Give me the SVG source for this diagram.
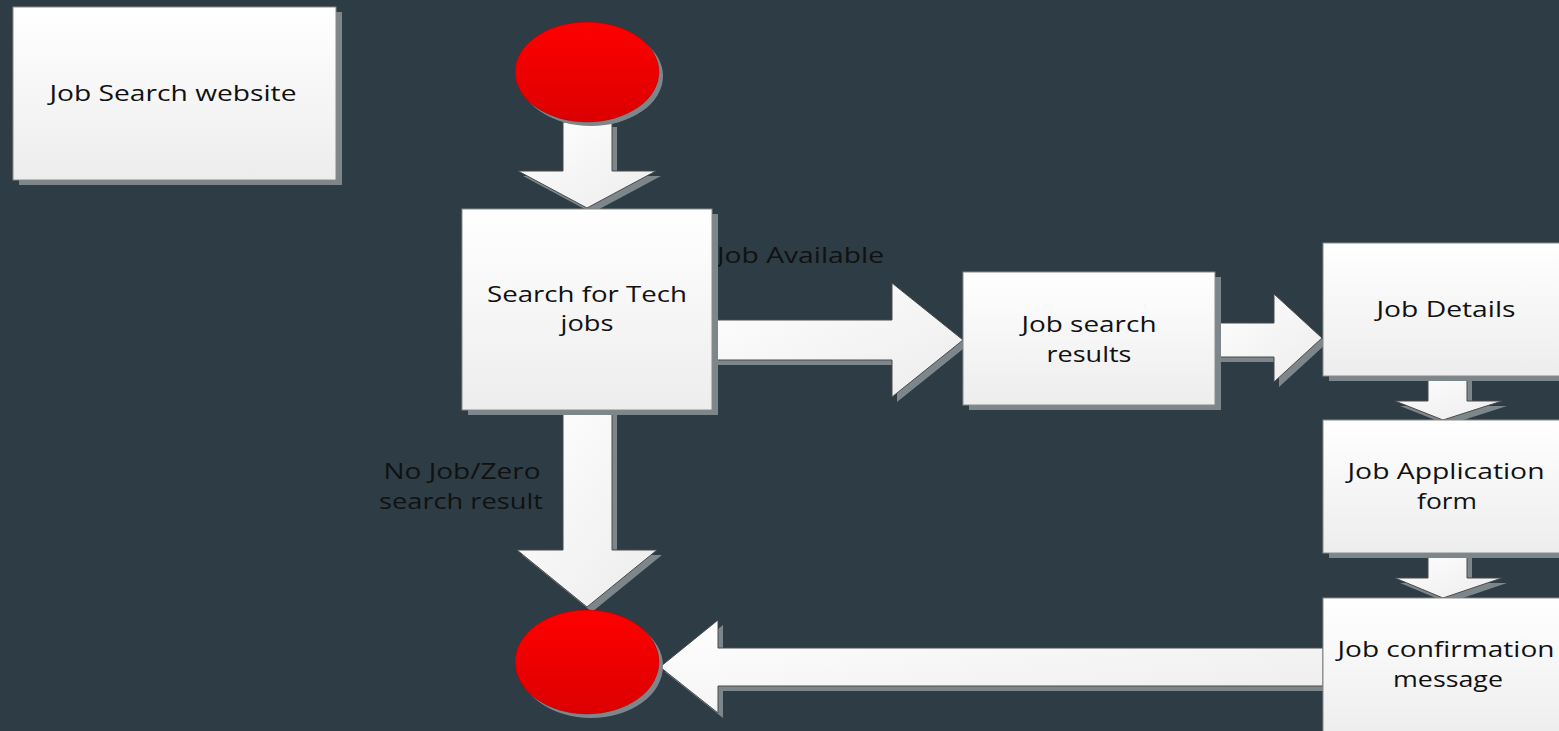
<svg xmlns="http://www.w3.org/2000/svg" width="1559" height="731" viewBox="0 0 1559 731">
<defs>
<linearGradient id="boxg" x1="0" y1="0" x2="0" y2="1"><stop offset="0" stop-color="#ffffff"/><stop offset="1" stop-color="#ededed"/></linearGradient>
<linearGradient id="arrg" x1="0" y1="0" x2="1" y2="1"><stop offset="0" stop-color="#ffffff"/><stop offset="1" stop-color="#ececec"/></linearGradient>
<linearGradient id="redg" x1="0" y1="0" x2="0" y2="1"><stop offset="0" stop-color="#ff0000"/><stop offset="1" stop-color="#dc0000"/></linearGradient>
<style>
.bg{fill:#2d3c45}
.box{fill:url(#boxg);stroke:#8a8a8a;stroke-width:1}
.sh{fill:#7d868b}
.arr{fill:url(#arrg);stroke:#4a4a4a;stroke-width:1}
.red{fill:url(#redg);stroke:#b00000;stroke-width:0.5}
text{font-family:"Open Sans","Liberation Sans",sans-serif;font-size:22px;fill:#111;text-anchor:middle}
.lbl{text-anchor:start}
</style>
</defs>
<rect class="bg" x="0" y="0" width="1559" height="731"/>

<g id="connectors">
  <g id="arrow-start-search">
    <polygon class="sh" transform="translate(5,5)" points="563,122 612,122 612,171 656,171 587,208 518,171 563,171"/>
    <polygon class="arr" points="563,122 612,122 612,171 656,171 587,208 518,171 563,171"/>
  </g>
  <g id="arrow-search-results">
    <polygon class="sh" transform="translate(5,5)" points="712,320 892,320 892,283 963,340 892,397 892,360 712,360"/>
    <polygon class="arr" points="712,320 892,320 892,283 963,340 892,397 892,360 712,360"/>
    <text class="lbl" x="717" y="263" textLength="167" lengthAdjust="spacingAndGlyphs">Job Available</text>
  </g>
  <g id="arrow-results-details">
    <polygon class="sh" transform="translate(5,5)" points="1215,323 1274,323 1274,294 1322,338 1274,382 1274,357 1215,357"/>
    <polygon class="arr" points="1215,323 1274,323 1274,294 1322,338 1274,382 1274,357 1215,357"/>
  </g>
  <g id="arrow-details-form">
    <polygon class="sh" transform="translate(5,5)" points="1428,376 1467,376 1467,401 1502,401 1443,420 1395,401 1428,401"/>
    <polygon class="arr" points="1428,376 1467,376 1467,401 1502,401 1443,420 1395,401 1428,401"/>
  </g>
  <g id="arrow-form-confirm">
    <polygon class="sh" transform="translate(5,5)" points="1428,553 1467,553 1467,578 1502,578 1443,598 1395,578 1428,578"/>
    <polygon class="arr" points="1428,553 1467,553 1467,578 1502,578 1443,598 1395,578 1428,578"/>
  </g>
  <g id="arrow-search-end">
    <polygon class="sh" transform="translate(5,5)" points="563,410 612,410 612,550 657,550 587,607 517,550 563,550"/>
    <polygon class="arr" points="563,410 612,410 612,550 657,550 587,607 517,550 563,550"/>
    <text x="462" y="479" textLength="157" lengthAdjust="spacingAndGlyphs">No Job/Zero</text>
    <text x="461" y="509" textLength="164" lengthAdjust="spacingAndGlyphs">search result</text>
  </g>
  <g id="arrow-confirm-end">
    <polygon class="sh" transform="translate(5,5)" points="1323,648 718,648 718,620 660,667 718,713 718,686 1323,686"/>
    <polygon class="arr" points="1323,648 718,648 718,620 660,667 718,713 718,686 1323,686"/>
  </g>
</g>

<g id="node-title">
  <rect class="sh" x="19" y="12" width="323" height="173"/>
  <rect class="box" x="13" y="7" width="323" height="173"/>
  <text x="173" y="101" textLength="247" lengthAdjust="spacingAndGlyphs">Job Search website</text>
</g>
<g id="node-start">
  <ellipse class="sh" cx="591" cy="76" rx="72" ry="50"/>
  <ellipse class="red" cx="587" cy="72" rx="72" ry="50"/>
</g>
<g id="node-search">
  <rect class="sh" x="468" y="214" width="250" height="201"/>
  <rect class="box" x="462" y="209" width="250" height="201"/>
  <text x="587" y="302" textLength="200" lengthAdjust="spacingAndGlyphs">Search for Tech</text>
  <text x="587" y="331" textLength="53" lengthAdjust="spacingAndGlyphs">jobs</text>
</g>
<g id="node-results">
  <rect class="sh" x="969" y="277" width="252" height="133"/>
  <rect class="box" x="963" y="272" width="252" height="133"/>
  <text x="1089" y="332" textLength="135" lengthAdjust="spacingAndGlyphs">Job search</text>
  <text x="1089" y="362" textLength="85" lengthAdjust="spacingAndGlyphs">results</text>
</g>
<g id="node-details">
  <rect class="sh" x="1329" y="248" width="246" height="133"/>
  <rect class="box" x="1323" y="243" width="246" height="133"/>
  <text x="1446" y="317" textLength="139" lengthAdjust="spacingAndGlyphs">Job Details</text>
</g>
<g id="node-form">
  <rect class="sh" x="1329" y="425" width="246" height="133"/>
  <rect class="box" x="1323" y="420" width="246" height="133"/>
  <text x="1446" y="479" textLength="197" lengthAdjust="spacingAndGlyphs">Job Application</text>
  <text x="1447" y="509" textLength="60" lengthAdjust="spacingAndGlyphs">form</text>
</g>
<g id="node-confirm">
  <rect class="sh" x="1329" y="603" width="246" height="140"/>
  <rect class="box" x="1323" y="598" width="246" height="140"/>
  <text x="1446" y="657" textLength="217" lengthAdjust="spacingAndGlyphs">Job confirmation</text>
  <text x="1448" y="687" textLength="110" lengthAdjust="spacingAndGlyphs">message</text>
</g>
<g id="node-end">
  <ellipse class="sh" cx="591" cy="666" rx="72" ry="52"/>
  <ellipse class="red" cx="587" cy="662" rx="72" ry="52"/>
</g>
</svg>
